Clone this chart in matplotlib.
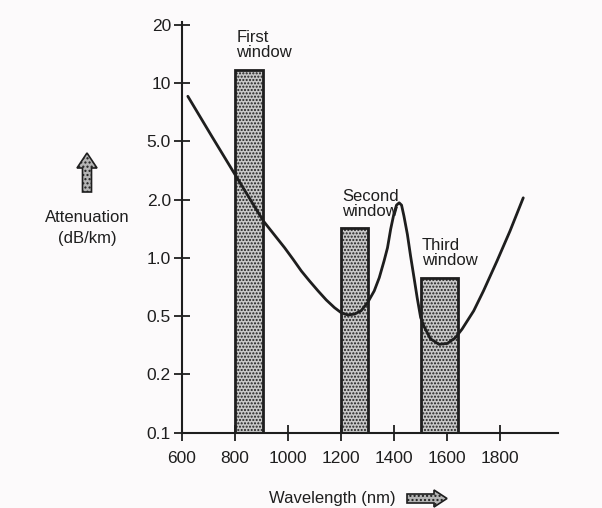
import numpy as np
import matplotlib
matplotlib.use("Agg")
import matplotlib.pyplot as plt
from matplotlib.patches import FancyArrow

plt.rcParams['font.family'] = ['Liberation Sans', 'DejaVu Sans']
plt.rcParams['hatch.color'] = '#8a8a8a'

# y ticks are evenly spaced in the original figure
y_ticks = [0.1, 0.2, 0.5, 1.0, 2.0, 5.0, 10, 20]
y_tick_labels = ['0.1', '0.2', '0.5', '1.0', '2.0', '5.0', '10', '20']
x_ticks = [600, 800, 1000, 1200, 1400, 1600, 1800]

# transmission windows: start, end (nm) and top (dB/km)
window_names = ['First\nwindow', 'Second\nwindow', 'Third\nwindow']
window_start = [800, 1200, 1500]
window_end = [905, 1300, 1640]
window_top = [11.7, 1.42, 0.785]

# attenuation curve
curve_nm = [622, 712, 799, 907, 987, 1019, 1050, 1081, 1113, 1144, 1175,
            1200, 1225, 1250, 1275, 1300, 1325, 1344, 1362, 1375, 1387, 1400,
            1409, 1419, 1428, 1437, 1450, 1462, 1475, 1487, 1500, 1512, 1537,
            1569, 1600, 1631, 1656, 1700, 1737, 1788, 1837, 1887]
curve_att = [8.53, 5.31, 2.98, 1.548, 1.127, 0.982, 0.855, 0.759, 0.675,
             0.606, 0.553, 0.521, 0.507, 0.512, 0.532, 0.587, 0.675, 0.790,
             0.963, 1.127, 1.407, 1.708, 1.871, 1.923, 1.871, 1.643, 1.321,
             1.022, 0.790, 0.621, 0.489, 0.428, 0.350, 0.321, 0.325, 0.356,
             0.407, 0.532, 0.675, 0.963, 1.375, 2.054]

anchors = np.log10([0.05] + y_ticks + [40])
anchor_pos = np.arange(-1, len(y_ticks) + 1)


def fwd(v):
    v = np.clip(np.asarray(v, dtype=float), 1e-3, None)
    return np.interp(np.log10(v), anchors, anchor_pos)


def inv(p):
    return 10 ** np.interp(p, anchor_pos, anchors)


fig = plt.figure(figsize=(6.02, 5.08), dpi=100)
fig.patch.set_facecolor('#fcfafb')
ax = fig.add_axes([182 / 602, 1 - 432.7 / 508, 376 / 602, 411 / 508])
ax.set_facecolor('none')
ax.set_yscale('function', functions=(fwd, inv))
ax.set_xlim(600, 2018)
ax.set_ylim(0.1, inv(7.05))

ink = '#1e1e1e'
for s, e, top in zip(window_start, window_end, window_top):
    ax.bar(s, top - 0.1, bottom=0.1, width=e - s, align='edge',
           facecolor='#c8c8c8', edgecolor=ink, linewidth=2, hatch='.....',
           zorder=2)

ax.plot(curve_nm, curve_att, color=ink, linewidth=2, zorder=3,
        solid_joinstyle='round', solid_capstyle='round')

for name, s, top in zip(window_names, window_start, window_top):
    ax.annotate(name, (s, top), xytext=(1, 7), textcoords='offset points',
                ha='left', va='bottom', fontsize=12, color=ink,
                linespacing=1.0)

for side in ['top', 'right']:
    ax.spines[side].set_visible(False)
for side in ['left', 'bottom']:
    ax.spines[side].set_linewidth(1.5)
    ax.spines[side].set_color(ink)

ax.set_yticks(y_ticks)
ax.set_yticklabels(y_tick_labels)
ax.yaxis.set_minor_locator(matplotlib.ticker.NullLocator())
ax.set_xticks(x_ticks)
ax.tick_params(direction='inout', length=12, width=1.3, colors=ink,
               labelsize=12.5, pad=2)
ax.tick_params(axis='x', pad=7)

fig.text(87 / 602, 1 - 218 / 508, 'Attenuation', ha='center', va='center',
         fontsize=12, color=ink)
fig.text(87 / 602, 1 - 238 / 508, '(dB/km)', ha='center', va='center',
         fontsize=12, color=ink)
fig.text(332 / 602, 1 - 498 / 508, 'Wavelength (nm)', ha='center',
         va='center', fontsize=12, color=ink)

fig.add_artist(FancyArrow(0.87, 3.16, 0, 0.24, width=0.09, head_width=0.2,
                          head_length=0.15, length_includes_head=False,
                          facecolor='#b4b4b4', edgecolor=ink, linewidth=1.2,
                          hatch='....', transform=fig.dpi_scale_trans))
fig.add_artist(FancyArrow(4.07, 0.095, 0.27, 0, width=0.09, head_width=0.17,
                          head_length=0.13, length_includes_head=False,
                          facecolor='#b4b4b4', edgecolor=ink, linewidth=1.2,
                          hatch='....', transform=fig.dpi_scale_trans))

fig.savefig('out.png', dpi=100, facecolor=fig.get_facecolor())
